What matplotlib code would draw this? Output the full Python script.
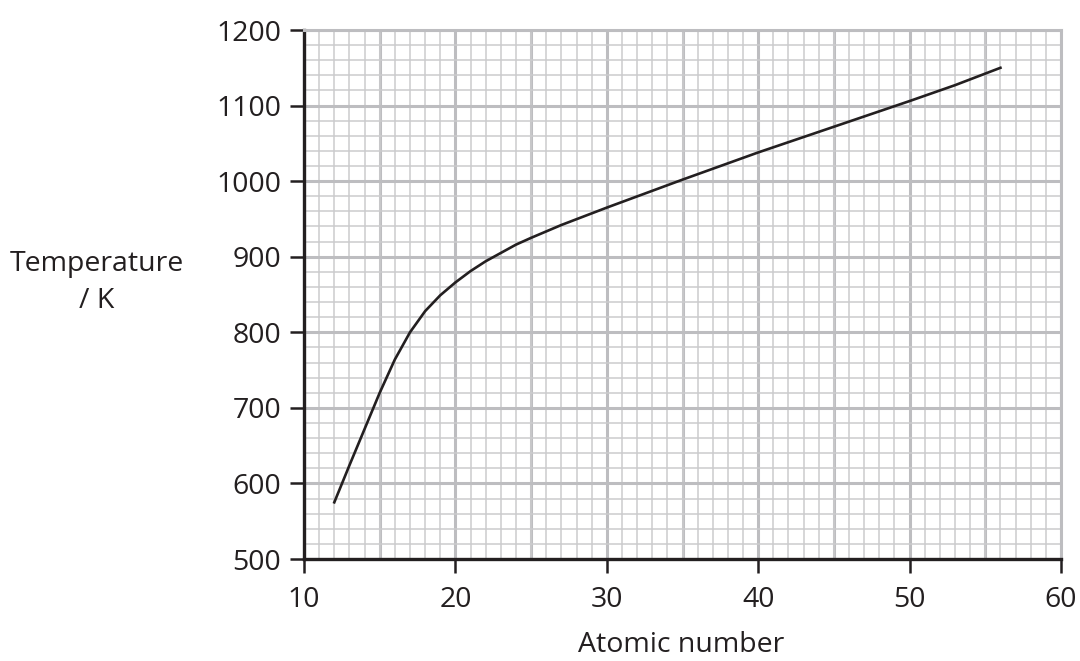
import matplotlib
matplotlib.use("Agg")
import matplotlib.pyplot as plt
from matplotlib.ticker import MultipleLocator

# values
atomic_number = [12, 13, 14, 15, 16, 17, 18, 19, 20, 21, 22, 23, 24, 25, 27, 30, 35, 40, 45, 50, 53, 56]
temperature = [575, 624, 672, 720, 764, 800, 828, 849, 866, 881, 894, 905, 916, 925, 942, 965, 1002, 1038, 1072, 1106, 1127, 1150]

x_ticks = [10, 20, 30, 40, 50, 60]
y_ticks = [500, 600, 700, 800, 900, 1000, 1100, 1200]

plt.rcParams['font.family'] = ['Open Sans', 'DejaVu Sans']
ink = '#231f20'
grid_thin = '#cbcbcd'
grid_thick = '#bdbdc0'

fig = plt.figure(figsize=(10.8, 6.61), dpi=100)
ax = fig.add_axes([0.2815, 0.1543, 0.7009, 0.8003])

ax.set_xlim(10, 60)
ax.set_ylim(500, 1200)
ax.set_xticks(x_ticks)
ax.set_yticks(y_ticks)
ax.xaxis.set_minor_locator(MultipleLocator(1))
ax.yaxis.set_minor_locator(MultipleLocator(20))

# graph paper grid
ax.set_axisbelow(True)
ax.grid(which='minor', color=grid_thin, linewidth=1.1)
ax.grid(which='major', color=grid_thick, linewidth=2.2)
for xv in range(15, 60, 10):
    ax.axvline(xv, color=grid_thick, linewidth=2.2, zorder=0.5)

ax.plot(atomic_number, temperature, color=ink, linewidth=1.9, zorder=3,
        solid_joinstyle='round')

for side in ['left', 'bottom']:
    ax.spines[side].set_color(ink)
    ax.spines[side].set_linewidth(2.4)
for side in ['top', 'right']:
    ax.spines[side].set_color(grid_thick)
    ax.spines[side].set_linewidth(2.2)

ax.tick_params(which='minor', length=0)
ax.tick_params(which='major', direction='out', length=10, width=1.8, color=ink,
               labelsize=20.5, labelcolor=ink, pad=6.5)
ax.tick_params(axis='x', which='major', pad=9.5)

# axis labels, placed in pixels like the reference
fig.text(97, 661 - 271, 'Temperature', transform=None, ha='center', va='baseline',
         fontsize=20.5, color=ink)
fig.text(97, 661 - 308, '/ K', transform=None, ha='center', va='baseline',
         fontsize=20.5, color=ink)
fig.text(681, 661 - 652, 'Atomic number', transform=None, ha='center', va='baseline',
         fontsize=20.5, color=ink)

fig.savefig('out.png', dpi=100, facecolor='white')
